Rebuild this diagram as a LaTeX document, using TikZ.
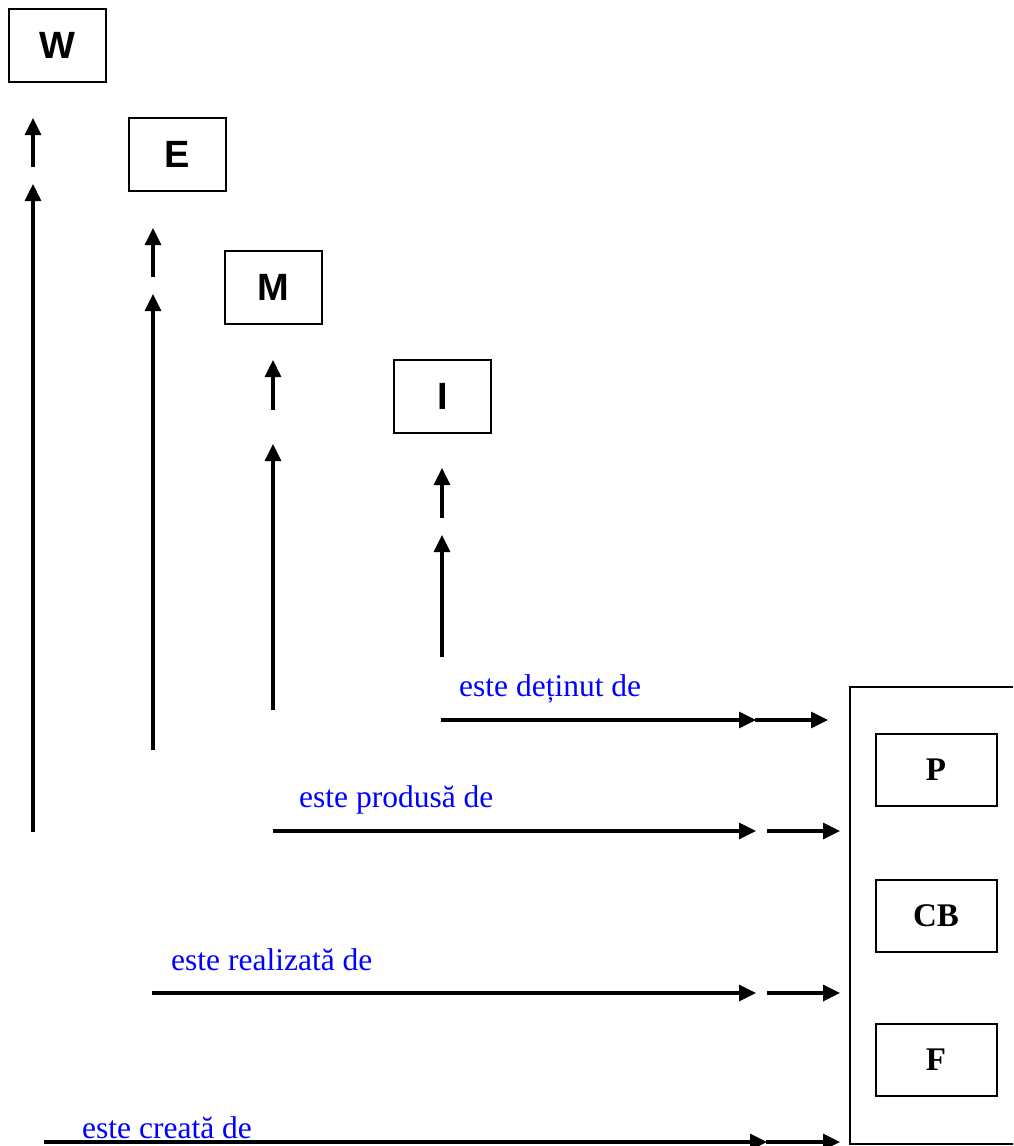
\documentclass[tikz,border=0pt]{standalone}
\usepackage{fontspec}
\setmainfont{Liberation Serif}
\newfontfamily\headsans{Liberation Sans}
\usetikzlibrary{arrows.meta}
\definecolor{relblue}{RGB}{0,0,255}

\begin{document}
\begin{tikzpicture}[x=1pt,y=-1pt,
  flow/.style={line width=3.3pt, -{Triangle[length=17pt,width=16pt]}},
  level/.style={draw, line width=2pt, minimum width=97pt, minimum height=73pt,
    inner sep=0pt, font=\headsans\bfseries\fontsize{38}{40}\selectfont},
  member/.style={draw, line width=2pt, minimum width=121pt, minimum height=72pt,
    inner sep=0pt, font=\bfseries\fontsize{33}{36}\selectfont},
  rel/.style={anchor=base west, inner sep=0pt, text=relblue,
    font=\fontsize{31.5}{34}\selectfont}]
  \clip (0,0) rectangle (1013,1146);
  \fill[white] (0,0) rectangle (1013,1146);

  % staircase of levels
  \node[level] (W) at (57.5,45.5) {W};
  \node[level] (E) at (177.5,154.5) {E};
  \node[level] (M) at (273.5,287.5) {M};
  \node[level] (I) at (442.5,396.5) {I};

  % container with its three members
  \draw[line width=2pt] (1020,687) -- (850,687) -- (850,1144) -- (1020,1144);
  \node[member] (P) at (936,770) {P};
  \node[member] (CB) at (936,916) {CB};
  \node[member] (F) at (936,1060) {F};

  % vertical arrows, each in two pieces
  \coordinate (w0) at (33,832);  \coordinate (w1) at (33,184);
  \coordinate (w2) at (33,167);  \coordinate (w3) at (33,118);
  \coordinate (e0) at (153,750); \coordinate (e1) at (153,294);
  \coordinate (e2) at (153,277); \coordinate (e3) at (153,228);
  \coordinate (m0) at (273,710); \coordinate (m1) at (273,444);
  \coordinate (m2) at (273,410); \coordinate (m3) at (273,360);
  \coordinate (i0) at (442,657); \coordinate (i1) at (442,535);
  \coordinate (i2) at (442,518); \coordinate (i3) at (442,468);
  \foreach \v in {w,e,m,i}{
    \draw[flow] (\v0) -- (\v1);
    \draw[flow] (\v2) -- (\v3);
  }

  % horizontal arrows, each in two pieces
  \coordinate (a0) at (441,720); \coordinate (a1) at (756,720);
  \coordinate (a2) at (755,720); \coordinate (a3) at (828,720);
  \coordinate (b0) at (273,831); \coordinate (b1) at (756,831);
  \coordinate (b2) at (767,831); \coordinate (b3) at (840,831);
  \coordinate (c0) at (152,993); \coordinate (c1) at (756,993);
  \coordinate (c2) at (767,993); \coordinate (c3) at (840,993);
  \coordinate (d0) at (44,1142); \coordinate (d1) at (767,1142);
  \coordinate (d2) at (766,1142); \coordinate (d3) at (840,1142);
  \foreach \h in {a,b,c,d}{
    \draw[flow] (\h0) -- (\h1);
    \draw[flow] (\h2) -- (\h3);
  }

  % relation labels
  \node[rel] (la) at (459,696) {este deținut de};
  \node[rel] (lb) at (299,807) {este produsă de};
  \node[rel] (lc) at (171,970) {este realizată de};
  \node[rel] (ld) at (82,1138) {este creată de};
\end{tikzpicture}
\end{document}
